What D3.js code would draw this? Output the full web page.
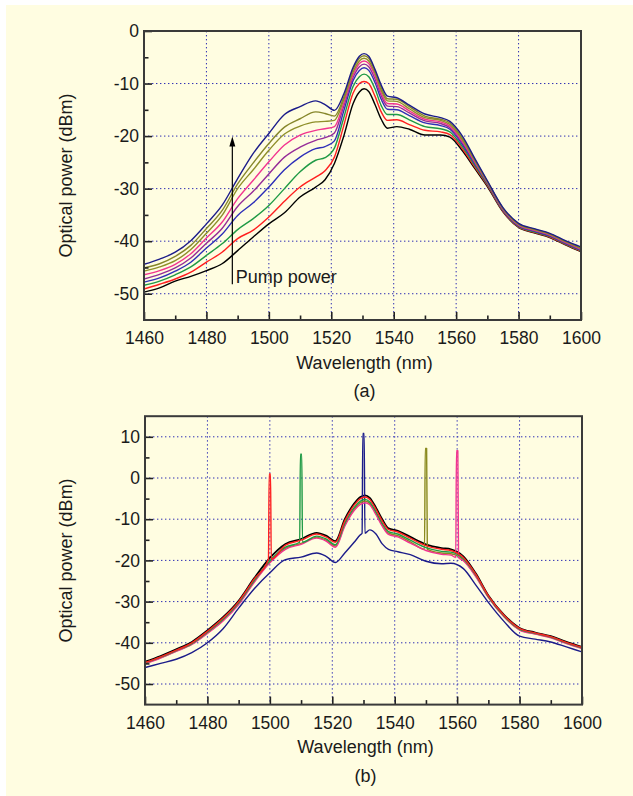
<!DOCTYPE html>
<html>
<head>
<meta charset="utf-8">
<script src="https://cdn.jsdelivr.net/npm/d3@7"></script>
<style>
  html, body { margin: 0; padding: 0; background: #ffffff; }
  svg { display: block; }
  text { font-family: "Liberation Sans", Arial, sans-serif; }
</style>
</head>
<body>
<svg id="chart" width="633" height="796"></svg>
<script>
// ---------------- DATA ----------------
const wavelengths = [1460,1465,1470,1475,1480,1485,1490,1495,1500,1505,1510,1515,1518,1521,1524,1527,1529,1530.5,1532,1534,1536,1538,1541,1545,1550,1555,1558,1562,1566,1570,1575,1580,1585,1590,1595,1600];

// Panel (a): ASE spectra for increasing pump power (lowest first)
const aBlack  = [-49.7,-48.9,-47.6,-46.7,-45.6,-44.3,-41.8,-39.2,-36.7,-34.6,-31.6,-29.7,-28.3,-25.2,-20.0,-13.8,-11.6,-11.0,-11.5,-14.0,-16.8,-18.5,-18.2,-18.7,-19.8,-19.8,-20.2,-22.8,-26.2,-29.6,-34.4,-37.4,-38.4,-39.3,-40.7,-42.0];
const aRed    = [-49.1,-48.2,-47.2,-45.9,-44.0,-42.1,-39.5,-37.9,-35.4,-32.4,-29.7,-27.8,-26.6,-24.0,-18.0,-11.8,-10.0,-9.6,-10.0,-12.4,-15.4,-17.0,-16.9,-17.8,-18.9,-19.2,-19.7,-22.4,-25.9,-29.4,-34.3,-37.3,-38.3,-39.2,-40.6,-41.9];
const aGreen  = [-48.4,-47.6,-46.4,-44.9,-42.7,-40.5,-37.8,-35.7,-33.2,-30.0,-26.8,-24.6,-24.1,-22.3,-16.5,-10.5,-8.7,-8.2,-8.7,-11.0,-14.2,-15.9,-15.9,-16.9,-18.2,-18.6,-19.2,-22.0,-25.6,-29.2,-34.2,-37.2,-38.2,-39.1,-40.5,-41.8];
const aBlue   = [-47.8,-47.0,-45.7,-44.0,-41.3,-38.7,-35.1,-32.7,-29.7,-26.4,-24.0,-22.4,-22.0,-20.9,-15.2,-9.4,-7.5,-7.0,-7.5,-9.8,-13.0,-14.9,-15.0,-16.1,-17.5,-18.0,-18.7,-21.6,-25.3,-29.0,-34.1,-37.1,-38.1,-39.0,-40.4,-41.7];
const aPurple = [-47.2,-46.3,-45.1,-43.2,-40.4,-37.6,-33.4,-30.5,-27.2,-24.0,-22.1,-20.8,-20.3,-19.4,-14.3,-8.8,-6.8,-6.3,-6.8,-9.1,-12.3,-14.3,-14.4,-15.6,-17.1,-17.6,-18.4,-21.3,-25.1,-28.9,-34.0,-37.0,-38.0,-38.9,-40.3,-41.6];
const aPink   = [-46.4,-45.6,-44.4,-42.4,-39.4,-36.4,-31.9,-28.4,-24.9,-21.7,-19.8,-18.9,-18.6,-18.2,-13.7,-8.3,-6.2,-5.7,-6.2,-8.5,-11.8,-13.8,-13.9,-15.2,-16.8,-17.3,-18.1,-21.0,-24.9,-28.8,-33.9,-36.9,-37.9,-38.8,-40.2,-41.5];
const aOlive2 = [-45.7,-44.9,-43.7,-41.6,-38.5,-35.1,-30.0,-26.4,-22.7,-19.6,-18.1,-17.3,-17.2,-17.0,-13.1,-7.8,-5.7,-5.2,-5.7,-8.0,-11.3,-13.3,-13.4,-14.8,-16.5,-17.0,-17.8,-20.7,-24.7,-28.7,-33.8,-36.8,-37.8,-38.7,-40.1,-41.4];
const aOlive1 = [-45.1,-44.3,-42.9,-40.8,-37.6,-34.2,-29.1,-25.1,-21.4,-18.3,-16.7,-15.4,-15.7,-16.2,-12.6,-7.3,-5.2,-4.7,-5.2,-7.6,-10.8,-12.9,-13.0,-14.4,-16.2,-16.8,-17.5,-20.4,-24.5,-28.6,-33.7,-36.7,-37.7,-38.6,-40.0,-41.3];
const aNavy   = [-44.4,-43.4,-42.1,-39.9,-36.7,-33.2,-28.1,-23.3,-19.5,-15.9,-14.4,-13.3,-14.0,-15.1,-12.0,-6.9,-4.8,-4.3,-4.8,-7.3,-10.3,-12.4,-12.7,-14.1,-15.8,-16.5,-17.2,-20.0,-24.3,-28.5,-33.6,-36.6,-37.6,-38.5,-39.9,-41.1];

// Panel (b): spectra with a signal at different wavelengths
const bBlack = [-44.6,-43.2,-41.6,-39.8,-37.0,-33.8,-29.8,-24.3,-19.4,-16.0,-14.8,-13.3,-14.0,-15.3,-10.0,-6.2,-4.6,-4.2,-4.8,-7.2,-10.0,-12.2,-12.8,-14.3,-16.1,-17.0,-17.3,-19.0,-23.2,-28.5,-33.2,-36.4,-37.5,-38.4,-39.8,-41.0];
const bRed   = [-44.8,-43.4,-41.8,-40.0,-37.2,-34.0,-30.0,-24.5,-19.7,-16.3,-15.1,-13.6,-14.3,-15.6,-10.4,-6.6,-5.0,-4.6,-5.2,-7.6,-10.4,-12.5,-13.1,-14.6,-16.4,-17.3,-17.6,-19.3,-23.4,-28.6,-33.3,-36.5,-37.6,-38.5,-39.9,-41.1];
const bGreen = [-44.9,-43.5,-41.9,-40.2,-37.4,-34.3,-30.3,-24.9,-20.1,-16.8,-15.6,-14.1,-14.8,-16.2,-11.0,-7.2,-5.6,-5.2,-5.8,-8.2,-11.0,-13.0,-13.6,-15.1,-16.9,-17.8,-18.0,-19.6,-23.6,-28.8,-33.5,-36.7,-37.7,-38.6,-40.0,-41.2];
const bOlive = [-45.0,-43.6,-42.0,-40.3,-37.6,-34.5,-30.5,-25.1,-20.4,-17.1,-15.9,-14.4,-15.1,-16.5,-11.4,-7.6,-6.0,-5.6,-6.2,-8.6,-11.4,-13.4,-14.0,-15.5,-17.3,-18.2,-18.4,-19.9,-23.8,-28.9,-33.6,-36.8,-37.8,-38.7,-40.1,-41.3];
const bPink  = [-45.1,-43.7,-42.1,-40.4,-37.7,-34.7,-30.7,-25.3,-20.6,-17.3,-16.1,-14.6,-15.3,-16.8,-11.7,-7.9,-6.4,-6.0,-6.5,-8.9,-11.7,-13.7,-14.3,-15.8,-17.6,-18.5,-18.7,-20.1,-24.0,-29.0,-33.7,-36.9,-37.9,-38.8,-40.2,-41.4];
const bNavy  = [-46.0,-45.0,-44.0,-42.4,-40.0,-36.6,-31.6,-26.9,-23.0,-19.8,-19.2,-18.2,-19.0,-20.5,-18.2,-15.6,-13.8,-13.3,-12.6,-13.6,-16.0,-17.3,-17.9,-18.6,-20.2,-20.8,-20.7,-22.0,-26.0,-30.2,-34.8,-38.4,-39.1,-39.8,-41.0,-42.2];

// Signal spikes in panel (b): wavelength, peak power, base power
const signalNames  = ["red","green","navy","olive","pink"];
const signalLambda = [1500, 1510, 1530, 1550, 1560];
const signalPeak   = [1.0, 5.8, 10.8, 7.2, 6.6];
const signalBase   = [-19.7, -15.6, -13.4, -17.3, -19.3];

// Axis ticks
const xMajorTicks = [1460,1480,1500,1520,1540,1560,1580,1600];
const xMinorTicks = [1470,1490,1510,1530,1550,1570,1590];
const aYMajorTicks = [-50,-40,-30,-20,-10,0];
const aYMinorTicks = [-45,-35,-25,-15,-5];
const bYMajorTicks = [-50,-40,-30,-20,-10,0,10];
const bYMinorTicks = [-45,-35,-25,-15,-5,5];

// Annotation in panel (a)
const arrowLambda = 1488.3, arrowFrom = -48.2, arrowTo = -20.1;
const pumpLabel = "Pump power", pumpLabelLambda = 1489.4, pumpLabelPower = -47.9;

// ---------------- STYLE ----------------
const colors = {
  black: "#000000", red: "#ff2020", green: "#1f9a45", blue: "#2e2eb8",
  purple: "#962c98", pink: "#f2348f", olive2: "#8f8f2a", olive1: "#86862a", navy: "#1c1c8a",
  olive: "#8a8a1e"
};

const svg = d3.select("#chart");
svg.append("rect").attr("x", 0).attr("y", 0).attr("width", 633).attr("height", 796).attr("fill", "#ffffff");
svg.append("rect").attr("x", 6).attr("y", 5).attr("width", 627).attr("height", 791).attr("fill", "#fffde1");

function drawPanel(cfg) {
  const g = svg.append("g");
  const x = d3.scaleLinear().domain([1460, 1600]).range([cfg.left, cfg.right]);
  const y = d3.scaleLinear().domain(cfg.yDomain).range([cfg.bottom, cfg.top]);

  // grid
  const grid = g.append("g").attr("stroke", "#2d2db4").attr("stroke-width", 1)
    .attr("stroke-dasharray", "1.4,2.6");
  xMajorTicks.filter(v => v > 1460 && v < 1600).forEach(v => {
    grid.append("line").attr("x1", x(v)).attr("x2", x(v)).attr("y1", cfg.top).attr("y2", cfg.bottom);
  });
  cfg.yMajor.filter(v => v > cfg.yDomain[0] && v < cfg.yDomain[1]).forEach(v => {
    grid.append("line").attr("x1", cfg.left).attr("x2", cfg.right).attr("y1", y(v)).attr("y2", y(v));
  });

  // clip
  const clipId = "clip" + cfg.id;
  svg.append("clipPath").attr("id", clipId).append("rect")
    .attr("x", cfg.left).attr("y", cfg.top).attr("width", cfg.right - cfg.left).attr("height", cfg.bottom - cfg.top);

  const line = d3.line().x(d => x(d[0])).y(d => y(d[1])).curve(d3.curveMonotoneX);
  const lines = g.append("g").attr("clip-path", `url(#${clipId})`);
  cfg.series.forEach(s => {
    lines.append("path").datum(s.points).attr("d", line)
      .attr("fill", "none").attr("stroke", s.color).attr("stroke-width", s.width || 1.4)
      .attr("stroke-linejoin", "round");
  });

  // axes
  const fmt = d => String(d);
  const xAx = g.append("g").attr("transform", `translate(0,${cfg.bottom})`)
    .call(d3.axisBottom(x).tickValues(xMajorTicks).tickSize(-8).tickPadding(11.5).tickFormat(fmt));
  const xMin = g.append("g").attr("transform", `translate(0,${cfg.bottom})`)
    .call(d3.axisBottom(x).tickValues(xMinorTicks).tickSize(-4.5).tickFormat(""));
  const yAx = g.append("g").attr("transform", `translate(${cfg.left},0)`)
    .call(d3.axisLeft(y).tickValues(cfg.yMajor).tickSize(-8).tickPadding(5).tickFormat(fmt));
  const yMin = g.append("g").attr("transform", `translate(${cfg.left},0)`)
    .call(d3.axisLeft(y).tickValues(cfg.yMinor).tickSize(-4.5).tickFormat(""));
  [xAx, xMin, yAx, yMin].forEach(a => {
    a.select(".domain").remove();
    a.selectAll(".tick line").attr("stroke", "#222").attr("stroke-width", 1.6);
    a.selectAll("text").attr("font-size", "17.5px").attr("fill", "#1a1a1a")
      .attr("font-family", '"Liberation Sans", Arial, sans-serif');
  });

  // frame
  g.append("rect").attr("x", cfg.left).attr("y", cfg.top)
    .attr("width", cfg.right - cfg.left).attr("height", cfg.bottom - cfg.top)
    .attr("fill", "none").attr("stroke", "#3a3a3a").attr("stroke-width", 2);

  // titles
  const cx = (cfg.left + cfg.right) / 2 + 2;
  g.append("text").attr("x", cx).attr("y", cfg.bottom + 48.5).attr("text-anchor", "middle")
    .attr("font-size", "18px").attr("fill", "#1a1a1a").text("Wavelength (nm)");
  g.append("text").attr("transform", `translate(71.5,${(cfg.top + cfg.bottom) / 2}) rotate(-90)`)
    .attr("text-anchor", "middle").attr("font-size", "18px").attr("fill", "#1a1a1a")
    .text("Optical power (dBm)");
  g.append("text").attr("x", cx).attr("y", cfg.bottom + 77).attr("text-anchor", "middle")
    .attr("font-size", "18px").attr("fill", "#1a1a1a").text(cfg.label);

  return { g, x, y };
}

// Panel (a)
const toPts = arr => wavelengths.map((w, i) => [w, arr[i]]);
const aSeries = [
  { color: colors.black, points: toPts(aBlack) },
  { color: colors.red, points: toPts(aRed) },
  { color: colors.green, points: toPts(aGreen) },
  { color: colors.blue, points: toPts(aBlue) },
  { color: colors.purple, points: toPts(aPurple) },
  { color: colors.pink, points: toPts(aPink) },
  { color: colors.olive2, points: toPts(aOlive2) },
  { color: colors.olive1, points: toPts(aOlive1) },
  { color: colors.navy, points: toPts(aNavy) }
];
const pa = drawPanel({ id: "a", left: 144, right: 581, top: 31, bottom: 320,
  yDomain: [-55, 0], yMajor: aYMajorTicks, yMinor: aYMinorTicks, series: aSeries, label: "(a)" });

// arrow + label
const ax = pa.x(arrowLambda);
pa.g.append("line").attr("x1", ax).attr("x2", ax)
  .attr("y1", pa.y(arrowFrom)).attr("y2", pa.y(arrowTo) + 8)
  .attr("stroke", "#000").attr("stroke-width", 1.2);
pa.g.append("path")
  .attr("d", `M${ax},${pa.y(arrowTo)} L${ax - 3},${pa.y(arrowTo) + 10} L${ax + 3},${pa.y(arrowTo) + 10} Z`)
  .attr("fill", "#000");
pa.g.append("text").attr("x", pa.x(pumpLabelLambda)).attr("y", pa.y(pumpLabelPower))
  .attr("font-size", "18px").attr("fill", "#1a1a1a").text(pumpLabel);

// Panel (b)
function withSpike(arr, name) {
  const k = signalNames.indexOf(name);
  let pts = toPts(arr);
  if (k >= 0) {
    const L = signalLambda[k];
    pts = pts.filter(p => Math.abs(p[0] - L) > 0.6);
    pts.push([L - 0.45, signalBase[k]], [L - 0.22, signalPeak[k]], [L + 0.22, signalPeak[k]], [L + 0.45, signalBase[k]]);
    pts.sort((a, b) => a[0] - b[0]);
  }
  return pts;
}
const bSeries = [
  { color: colors.black, points: toPts(bBlack), width: 1.8 },
  { color: colors.navy, points: withSpike(bNavy, "navy") },
  { color: colors.olive, points: withSpike(bOlive, "olive") },
  { color: colors.pink, points: withSpike(bPink, "pink") },
  { color: colors.green, points: withSpike(bGreen, "green") },
  { color: colors.red, points: withSpike(bRed, "red") }
];
drawPanel({ id: "b", left: 145, right: 582, top: 416.2, bottom: 704.6,
  yDomain: [-55, 15], yMajor: bYMajorTicks, yMinor: bYMinorTicks, series: bSeries, label: "(b)" });
</script>
</body>
</html>
